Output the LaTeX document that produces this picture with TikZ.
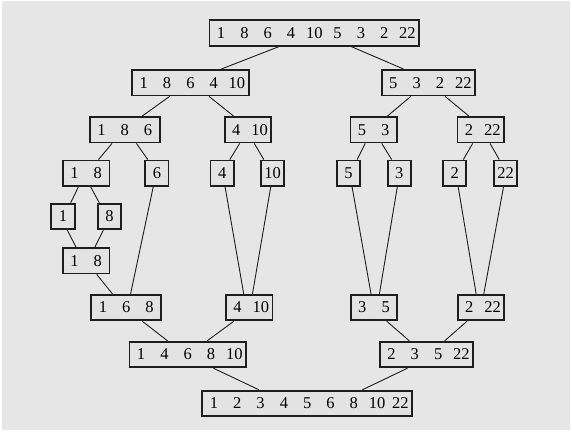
\documentclass[tikz,border=0pt]{standalone}
\usepackage{fontspec}
\setmainfont{Liberation Serif}
\usepackage{tikz}
\definecolor{paper}{RGB}{230,230,230}
\definecolor{cellfill}{RGB}{227,227,227}
\definecolor{ink}{RGB}{30,30,30}
\tikzstyle{cell} = [rectangle, draw=ink, line width=1.8pt, fill=cellfill, inner sep=0pt, minimum height=25.6pt, font=\fontsize{16.5}{19}\selectfont]
\tikzstyle{edge} = [draw=ink, line width=0.9pt]
\newcommand{\cells}[1]{\foreach \val in {#1}{\makebox[23.3pt]{\val}}}

\begin{document}
\begin{tikzpicture}[node distance=46pt]

% Background
\useasboundingbox (0,0) rectangle (572pt,-431pt);
\fill[paper] (2pt,-1pt) rectangle (570pt,-430pt);

% Split Nodes
\node (top) [cell] at (314.3pt,-32.9pt) {\cells{1,8,6,4,10,5,3,2,22}};
\node (a) [cell, below of=top, xshift=-123.9pt, yshift=-3.8pt] {\cells{1,8,6,4,10}};
\node (b) [cell, below of=top, xshift=114pt, yshift=-3.8pt] {\cells{5,3,2,22}};
\node (aa) [cell, below of=a, xshift=-65.6pt, yshift=-1pt] {\cells{1,8,6}};
\node (ab) [cell, below of=a, xshift=57.5pt, yshift=-1pt] {\cells{4,10}};
\node (ba) [cell, below of=b, xshift=-54.6pt, yshift=-1pt] {\cells{5,3}};
\node (bb) [cell, below of=b, xshift=52.4pt, yshift=-1pt] {\cells{2,22}};
\node (aaa) [cell, below of=aa, xshift=-38.7pt, yshift=2.4pt] {\cells{1,8}};
\node (aab) [cell, below of=aa, xshift=32.1pt, yshift=2.4pt] {\cells{6}};
\node (aba) [cell, below of=ab, xshift=-25.7pt, yshift=2.4pt] {\cells{4}};
\node (abb) [cell, below of=ab, xshift=24.6pt, yshift=2.4pt] {\cells{10}};
\node (baa) [cell, below of=ba, xshift=-25.3pt, yshift=2.4pt] {\cells{5}};
\node (bab) [cell, below of=ba, xshift=25.6pt, yshift=2.4pt] {\cells{3}};
\node (bba) [cell, below of=bb, xshift=-26pt, yshift=2.4pt] {\cells{2}};
\node (bbb) [cell, below of=bb, xshift=24.9pt, yshift=2.4pt] {\cells{22}};
\node (aaaa) [cell, below of=aaa, xshift=-23.1pt, yshift=2.8pt] {\cells{1}};
\node (aaab) [cell, below of=aaa, xshift=23.4pt, yshift=2.8pt] {\cells{8}};

% Merge Nodes
\node (m18) [cell, below of=aaaa, xshift=23.1pt, yshift=1.8pt] {\cells{1,8}};
\node (m168) [cell, below of=m18, xshift=40.2pt, yshift=-0.8pt] {\cells{1,6,8}};
\node (m410) [cell, right of=m168, xshift=76.9pt] {\cells{4,10}};
\node (m35) [cell, right of=m410, xshift=78.8pt] {\cells{3,5}};
\node (m222) [cell, right of=m35, xshift=61pt] {\cells{2,22}};
\node (m14) [cell, below of=m168, xshift=61.4pt, yshift=-1pt] {\cells{1,4,6,8,10}};
\node (m23) [cell, right of=m14, xshift=192.8pt] {\cells{2,3,5,22}};
\node (bot) [cell, below of=m14, xshift=119.5pt, yshift=-3pt] {\cells{1,2,3,4,5,6,8,10,22}};

% Split lines
\draw [edge] ([xshift=-35.3pt]top.south) -- ([xshift=31pt]a.north);
\draw [edge] ([xshift=37pt]top.south) -- ([xshift=-24.8pt]b.north);
\draw [edge] ([xshift=-20.8pt]a.south) -- ([xshift=17.5pt]aa.north);
\draw [edge] ([xshift=18.6pt]a.south) -- ([xshift=-14.4pt]ab.north);
\draw [edge] ([xshift=-17.5pt]b.south) -- ([xshift=13.8pt]ba.north);
\draw [edge] ([xshift=16.8pt]b.south) -- ([xshift=-11.9pt]bb.north);
\draw [edge] ([xshift=-12.8pt]aa.south) -- ([xshift=12.4pt]aaa.north);
\draw [edge] ([xshift=11.6pt]aa.south) -- ([xshift=-9.1pt]aab.north);
\draw [edge] ([xshift=-8.2pt]ab.south) -- ([xshift=7.6pt]aba.north);
\draw [edge] ([xshift=6.4pt]ab.south) -- ([xshift=-8.7pt]abb.north);
\draw [edge] ([xshift=-8.5pt]ba.south) -- ([xshift=8.7pt]baa.north);
\draw [edge] ([xshift=8pt]ba.south) -- ([xshift=-7.6pt]bab.north);
\draw [edge] ([xshift=-8pt]bb.south) -- ([xshift=8.6pt]bba.north);
\draw [edge] ([xshift=9.3pt]bb.south) -- ([xshift=-6.3pt]bbb.north);
\draw [edge] ([xshift=-7.8pt]aaa.south) -- ([xshift=7.7pt]aaaa.north);
\draw [edge] ([xshift=4.6pt]aaa.south) -- ([xshift=-10.2pt]aaab.north);

% Merge lines
\draw [edge] ([xshift=4.3pt]aaaa.south) -- ([xshift=-10.1pt]m18.north);
\draw [edge] ([xshift=-6.2pt]aaab.south) -- ([xshift=8.9pt]m18.north);
\draw [edge] ([xshift=10.6pt]m18.south) -- ([xshift=-13.9pt]m168.north);
\draw [edge] ([xshift=-3.7pt]aab.south) -- ([xshift=4.3pt]m168.north);
\draw [edge] ([xshift=2.9pt]aba.south) -- ([xshift=-5.5pt]m410.north);
\draw [edge] ([xshift=-1.8pt]abb.south) -- ([xshift=3.3pt]m410.north);
\draw [edge] ([xshift=3.7pt]baa.south) -- ([xshift=-3pt]m35.north);
\draw [edge] ([xshift=-2pt]bab.south) -- ([xshift=5.4pt]m35.north);
\draw [edge] ([xshift=3.5pt]bba.south) -- ([xshift=-4.9pt]m222.north);
\draw [edge] ([xshift=-2.1pt]bbb.south) -- ([xshift=2.8pt]m222.north);
\draw [edge] ([xshift=16pt]m168.south) -- ([xshift=-20.2pt]m14.north);
\draw [edge] ([xshift=-15.3pt]m410.south) -- ([xshift=19.5pt]m14.north);
\draw [edge] ([xshift=12.7pt]m35.south) -- ([xshift=-17.2pt]m23.north);
\draw [edge] ([xshift=-14pt]m222.south) -- ([xshift=18.2pt]m23.north);
\draw [edge] ([xshift=25.7pt]m14.south) -- ([xshift=-48.2pt]bot.north);
\draw [edge] ([xshift=-19pt]m23.south) -- ([xshift=55.1pt]bot.north);

\end{tikzpicture}
\end{document}
